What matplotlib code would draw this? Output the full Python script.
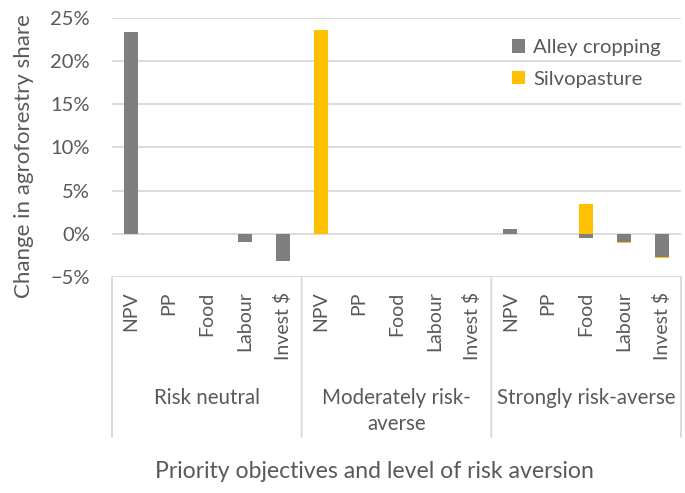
import numpy as np
import matplotlib
matplotlib.use("Agg")
import matplotlib.pyplot as plt
from matplotlib.ticker import PercentFormatter

plt.rcParams['font.family'] = ['Lato', 'DejaVu Sans']

objectives = ["NPV", "PP", "Food", "Labour", "Invest $"]
groups = ["Risk neutral", "Moderately risk-\naverse", "Strongly risk-averse"]

alley = [0.234, 0, 0, -0.009, -0.031,
         0, 0, 0, 0, 0,
         0.006, 0, -0.005, -0.009, -0.027]
silvo = [0, 0, 0, 0, 0,
         0.236, 0, 0, 0, 0,
         0, 0, 0.034, -0.0015, -0.0015]

grey = "#7F7F7F"
gold = "#FFC000"
txt = "#595959"
line = "#D9D9D9"

alley = np.array(alley)
silvo = np.array(silvo)
n = len(alley)
x = np.arange(n)

# stack silvopasture on alley cropping when the signs agree
silvo_bottom = np.where(np.sign(silvo) == np.sign(alley), alley, 0)

fig = plt.figure(figsize=(6.85, 4.93), dpi=100)
ax = fig.add_axes([112 / 685, 1 - 277 / 493, 569 / 685, 259 / 493])

ax.bar(x, alley, width=0.37, color=grey, label="Alley cropping", zorder=3)
ax.bar(x, silvo, width=0.37, bottom=silvo_bottom, color=gold,
       label="Silvopasture", zorder=3)

ax.set_xlim(-0.5, n - 0.5)
ax.set_ylim(-0.05, 0.25)
ax.set_yticks(np.arange(-0.05, 0.251, 0.05))
ax.yaxis.set_major_formatter(PercentFormatter(1.0, decimals=0))
ax.tick_params(axis='y', length=0, pad=16, labelsize=14.5, labelcolor=txt)
ax.set_xticks([])
ax.grid(axis='y', color=line, linewidth=1.3, zorder=0)
for s in ax.spines.values():
    s.set_visible(False)

# two-level category axis
for i in range(n):
    ax.annotate(objectives[i % 5], xy=(i, 0), xycoords=('data', 'axes fraction'),
                xytext=(0, -10.5), textcoords='offset points',
                rotation=90, ha='center', va='top', fontsize=14, color=txt)
for g, name in enumerate(groups):
    ax.annotate(name, xy=(g * 5 + 2, 0), xycoords=('data', 'axes fraction'),
                xytext=(0, -80), textcoords='offset points',
                ha='center', va='top', fontsize=14.8, color=txt,
                linespacing=1.35)
for b in [-0.5, 4.5, 9.5, 14.5]:
    ax.annotate("", xy=(b, 0), xycoords=('data', 'axes fraction'),
                xytext=(b, -0.618), textcoords=('data', 'axes fraction'),
                arrowprops=dict(arrowstyle='-', color=line, lw=1.3,
                                shrinkA=0, shrinkB=0))

leg = ax.legend(loc='upper left', bbox_to_anchor=(0.703, 0.918), frameon=False,
                fontsize=14.6, handlelength=0.64, handleheight=0.64,
                handletextpad=0.4, labelspacing=0.72,
                borderaxespad=0, borderpad=0)
for t in leg.get_texts():
    t.set_color(txt)

fig.text(24 / 685, 1 - 156 / 493, "Change in agroforestry share", rotation=90,
         ha='center', va='center', fontsize=16, color=txt)
fig.text(374 / 685, 1 - 472 / 493, "Priority objectives and level of risk aversion",
         ha='center', va='center', fontsize=16.6, color=txt)

fig.savefig("out.png", dpi=100)
